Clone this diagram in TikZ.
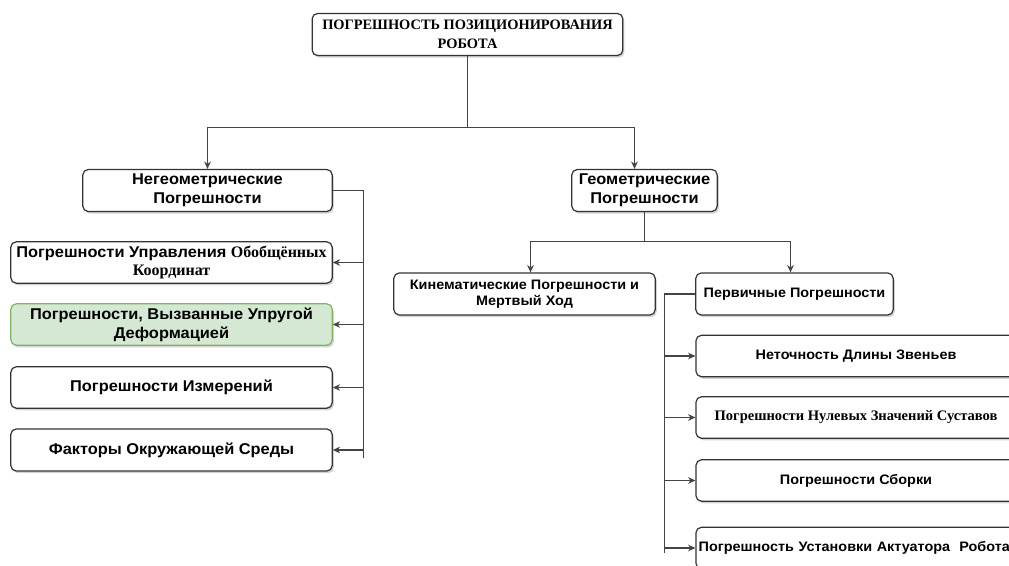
\documentclass[tikz,border=0pt]{standalone}
\usepackage{fontspec}
\setmainfont{Liberation Sans}[FakeStretch=1.05]
\newfontfamily\tnr{Liberation Serif}
\newcommand\tnrb{\tnr\bfseries}
\usetikzlibrary{arrows.meta,shadows,calc}
\definecolor{linec}{HTML}{444444}
\definecolor{boxc}{HTML}{333333}
\definecolor{gfill}{HTML}{D5E8D4}
\definecolor{gdraw}{HTML}{82B366}
\tikzset{
  box/.style={draw=boxc, line width=0.9pt, rounded corners=4pt, fill=white, align=center,
    inner sep=1pt, font=\bfseries\fontsize{11.7pt}{14.2pt}\selectfont,
    drop shadow={opacity=0.35, shadow xshift=1.2pt, shadow yshift=-1.6pt}},
  smallbox/.style={box, font=\bfseries\fontsize{10.3pt}{12pt}\selectfont},
  conn/.style={draw=linec, line width=1.1pt},
  arr/.style={conn, -{Stealth[length=5.5pt,width=5pt]}},
}
\begin{document}
\begin{tikzpicture}[x=0.75pt, y=-0.75pt]
\useasboundingbox (0,0) rectangle (1009,566);
\clip (0,0) rectangle (1009,566);
% nodes
\node[box, minimum width=233pt, minimum height=31.5pt, font=\tnrb\fontsize{10.8pt}{14.5pt}\selectfont] (top) at (467.5,34.5) {ПОГРЕШНОСТЬ ПОЗИЦИОНИРОВАНИЯ\\РОБОТА};
\node[box, minimum width=187pt, minimum height=31.5pt] (neg) at (207.5,190.5) {Негеометрические\\Погрешности};
\node[box, minimum width=241pt, minimum height=31pt, font=\bfseries\fontsize{11.7pt}{13.5pt}\selectfont] (l2) at (171.5,262.5) {Погрешности Управления {\tnrb\fontsize{12pt}{13.5pt}\selectfont Обобщённых}\\{\tnrb\fontsize{12pt}{13.5pt}\selectfont Координат}};
\node[box, fill=gfill, draw=gdraw, minimum width=241pt, minimum height=31pt] (l3) at (171.5,324.5) {Погрешности, Вызванные Упругой\\Деформацией};
\node[box, minimum width=241pt, minimum height=31pt] (l4) at (171.5,387.5) {Погрешности Измерений};
\node[box, minimum width=241pt, minimum height=31.5pt] (l5) at (171.5,450) {Факторы Окружающей Среды};
\node[box, minimum width=109pt, minimum height=31.5pt] (geo) at (644.5,190.5) {Геометрические\\Погрешности};
\node[smallbox, minimum width=196pt, minimum height=31.5pt] (kin) at (524.5,294) {Кинематические Погрешности и\\Мертвый Ход};
\node[smallbox, minimum width=148pt, minimum height=31.5pt] (prim) at (794.5,294) {Первичные Погрешности};
\node[smallbox, minimum width=240pt, minimum height=31pt] (r1) at (856,356) {Неточность Длины Звеньев};
\node[smallbox, minimum width=240pt, minimum height=31pt, font=\tnrb\fontsize{10.9pt}{12pt}\selectfont] (r2) at (856,417.5) {Погрешности Нулевых Значений Суставов};
\node[smallbox, minimum width=240pt, minimum height=31pt] (r3) at (856,480.5) {Погрешности Сборки};
\node[smallbox, minimum width=240pt, minimum height=31pt, text width=236pt, align=left] (r4) at (856,548) {Погрешность Установки Актуатора\ \ Робота};
% connectors
\coordinate (j1) at (467.5,127.5);
\draw[conn] (top.south) -- (j1);
\draw[arr] (j1) -| (neg.north);
\draw[arr] (j1) -| ($(geo.north)+(-10,0)$);
% left bus
\coordinate (lb) at (363.5,458);
\draw[conn] (neg.east) -- (lb |- neg.east) -- (lb);
\draw[arr] (lb |- l2.east) -- (l2.east);
\draw[arr] (lb |- l3.east) -- (l3.east);
\draw[arr] (lb |- l4.east) -- (l4.east);
\draw[arr] (lb |- l5.east) -- (l5.east);
% geometric split
\coordinate (j2) at (644.5,241.5);
\draw[conn] (geo.south -| j2) -- (j2);
\draw[arr] (j2) -| ($(kin.north)+(6,0)$);
\draw[arr] (j2) -| ($(prim.north)+(-4,0)$);
% right bus
\coordinate (rb) at (664.5,553);
\draw[conn] (prim.west) -- (rb |- prim.west) -- (rb);
\draw[arr] (rb |- r1.west) -- (r1.west);
\draw[arr] (rb |- r2.west) -- (r2.west);
\draw[arr] (rb |- r3.west) -- (r3.west);
\draw[arr] (rb |- r4.west) -- (r4.west);
\end{tikzpicture}
\end{document}
